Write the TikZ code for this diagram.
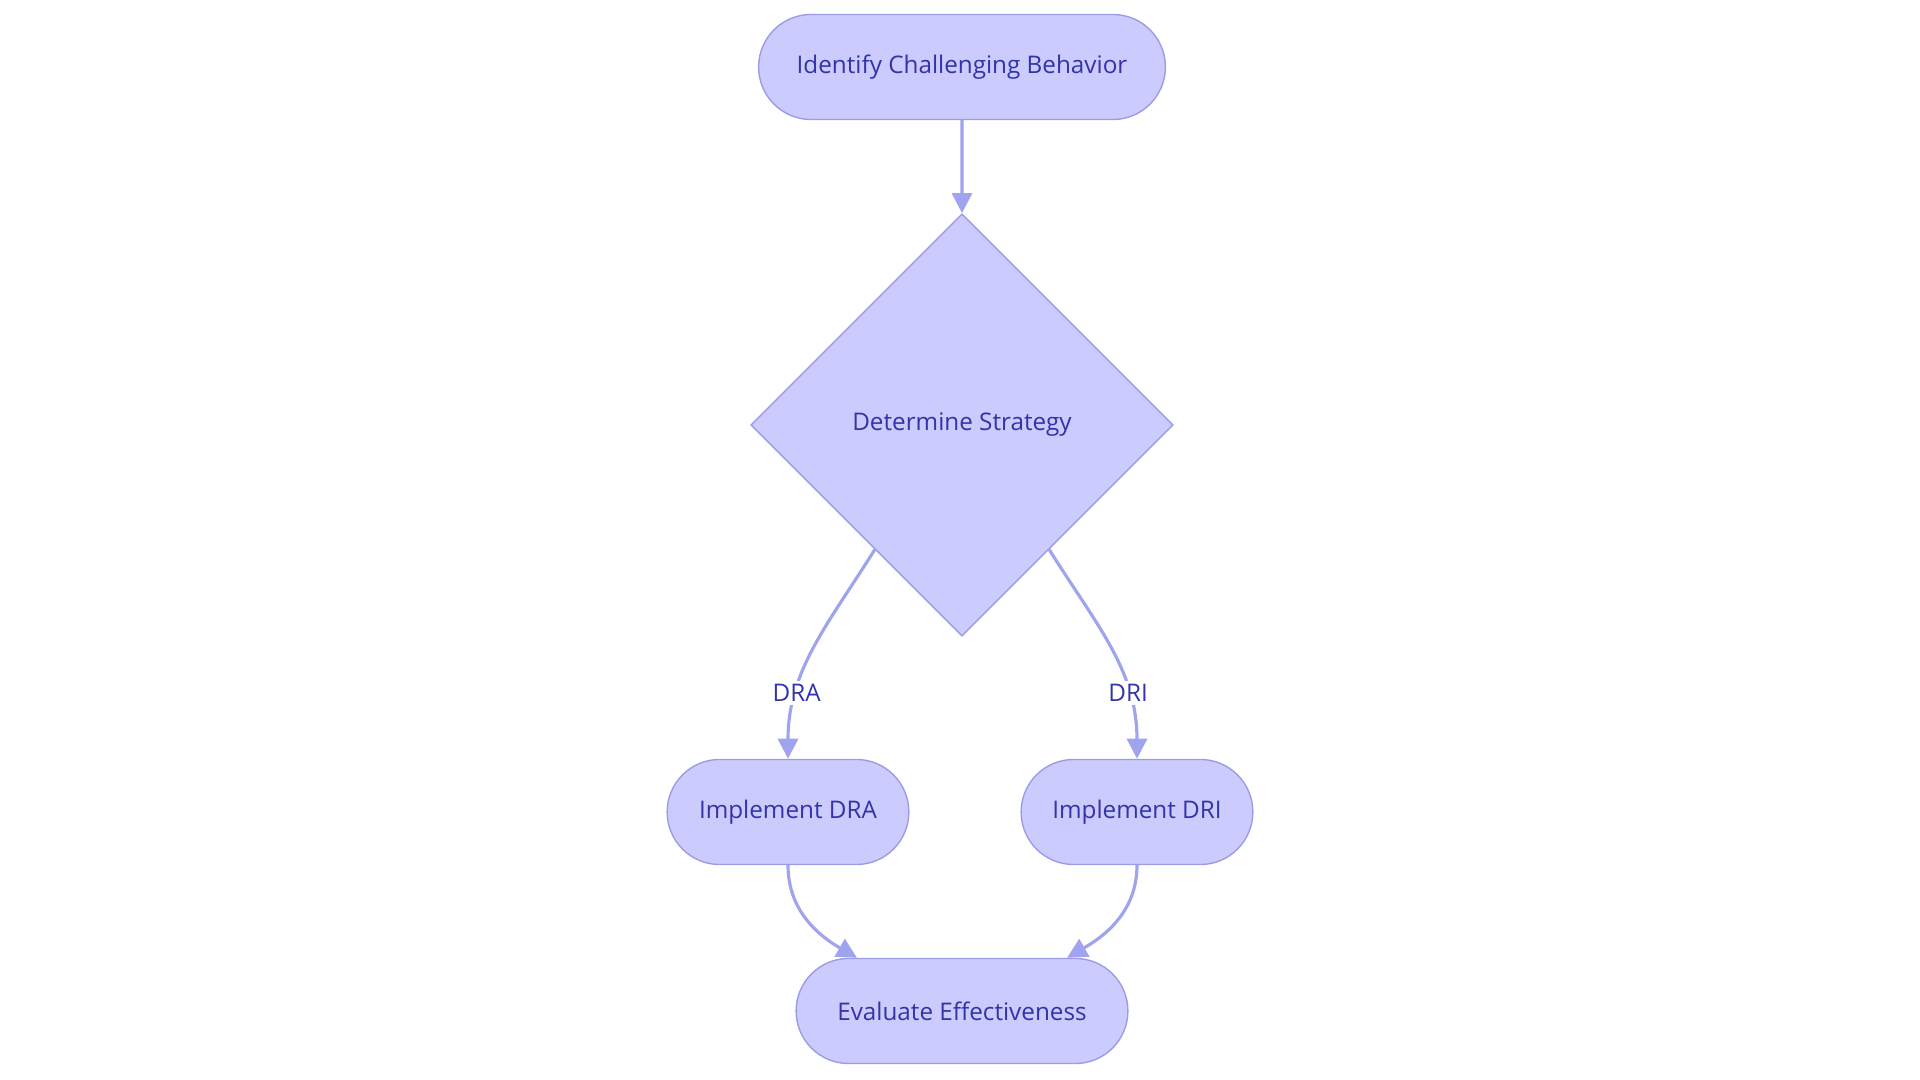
\documentclass[tikz,border=0pt]{standalone}
\usepackage{fontspec}
\setmainfont{Open Sans}
\usetikzlibrary{shapes.geometric,shapes.misc,arrows.meta}
\definecolor{boxfill}{HTML}{CBCBFD}
\definecolor{boxline}{HTML}{9C9CE6}
\definecolor{boxtext}{HTML}{3333AA}
\definecolor{linkcol}{HTML}{A0A3EE}
\tikzset{
  stage/.style={draw=boxline, fill=boxfill, text=boxtext, rounded rectangle,
    minimum height=1.05cm, font=\fontsize{6.9pt}{8pt}\selectfont, line width=0.4pt},
  choice/.style={draw=boxline, fill=boxfill, text=boxtext, diamond,
    minimum width=4.22cm, minimum height=4.22cm, inner sep=0pt, font=\fontsize{6.9pt}{8pt}\selectfont},
  link/.style={draw=linkcol, line width=0.9pt, -{Triangle[length=0.2cm,width=0.2cm]}},
  tag/.style={fill=white, text=boxtext, inner sep=1pt, font=\fontsize{6.9pt}{8pt}\selectfont}
}
\begin{document}
\begin{tikzpicture}[x=0.01cm, y=-0.01cm]
  \useasboundingbox (0,0) rectangle (1920,1080);
  \node[stage, minimum width=4.3cm] (identify) at (962,67) {Identify Challenging Behavior};
  \node[choice] (strategy) at (962,425) {Determine Strategy};
  \node[stage, minimum width=2.65cm] (dra) at (788,812) {Implement DRA};
  \node[stage, minimum width=2.55cm] (dri) at (1137,812) {Implement DRI};
  \node[stage, minimum width=3.55cm] (evaluate) at (962,1011) {Evaluate Effectiveness};
  % links
  \draw[link] (identify) -- (strategy);
  \draw[link] (strategy.-125) to[out=-122, in=90] node[tag, pos=0.72] {DRA} (dra.north);
  \draw[link] (strategy.-55) to[out=-58, in=90] node[tag, pos=0.72] {DRI} (dri.north);
  \draw[link] (dra.south) to[out=-90, in=150] ([xshift=-1.05cm]evaluate.north);
  \draw[link] (dri.south) to[out=-90, in=30] ([xshift=1.05cm]evaluate.north);
\end{tikzpicture}
\end{document}
